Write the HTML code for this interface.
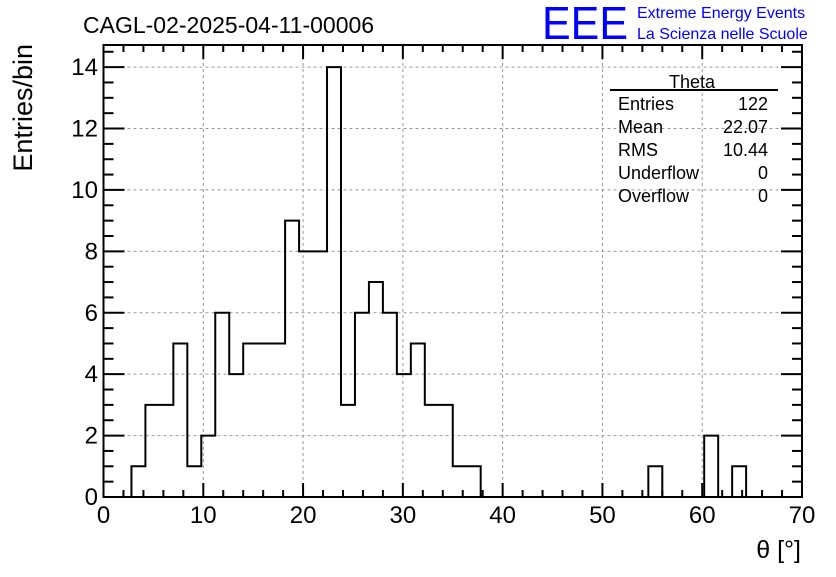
<!DOCTYPE html>
<html><head><meta charset="utf-8"><style>
body{margin:0;background:#fff;}
svg text{font-family:"Liberation Sans",sans-serif;}
</style></head><body>
<svg id="c" width="836" height="572" xmlns="http://www.w3.org/2000/svg">
<rect width="836" height="572" fill="#fff"/>
<g id="grid"></g>
<g id="bars"></g>
<g id="axes"></g>
<text x="83" y="33" font-size="23">CAGL-02-2025-04-11-00006</text>
<text x="542" y="39" font-size="46" fill="#0000ff" textLength="86" lengthAdjust="spacingAndGlyphs">EEE</text>
<text x="637" y="18" font-size="16" fill="#0000ff">Extreme Energy Events</text>
<text x="637" y="39" font-size="16" fill="#0000ff">La Scienza nelle Scuole</text>
<g font-size="18">
<text x="692" y="88" text-anchor="middle">Theta</text>
<line x1="610" y1="90" x2="778" y2="90" stroke="#000" stroke-width="2"/>
<text x="618" y="110">Entries</text><text x="768" y="110" text-anchor="end">122</text>
<text x="618" y="133">Mean</text><text x="768" y="133" text-anchor="end">22.07</text>
<text x="618" y="156">RMS</text><text x="768" y="156" text-anchor="end">10.44</text>
<text x="618" y="179">Underflow</text><text x="768" y="179" text-anchor="end">0</text>
<text x="618" y="202">Overflow</text><text x="768" y="202" text-anchor="end">0</text>
</g>
<text x="32" y="44" font-size="27" transform="rotate(-90 32 44)" text-anchor="end">Entries/bin</text>
<text x="801" y="558" font-size="25" text-anchor="end">θ [°]</text>
</svg>
<script>
const binWidth = 1.4;
const counts = [0,0,1,3,3,5,1,2,6,4,5,5,5,9,8,8,14,3,6,7,6,4,5,3,3,1,1,0,0,0,0,0,0,0,0,0,0,0,0,1,0,0,0,2,0,1,0,0,0,0];
const xTicks = [0,10,20,30,40,50,60,70];
const yTicks = [0,2,4,6,8,10,12,14];
const X0=103.5,X1=802,Y0=497,Y1=45,XMAX=70,YMAX=14.72;
const sx=v=>X0+(X1-X0)*v/XMAX, sy=v=>Y0-(Y0-Y1)*v/YMAX;
const NS="http://www.w3.org/2000/svg";
function mk(p,t,a){const e=document.createElementNS(NS,t);for(const k in a)e.setAttribute(k,a[k]);p.appendChild(e);return e;}
const grid=document.getElementById('grid'),axes=document.getElementById('axes'),bars=document.getElementById('bars');
xTicks.forEach(v=>{if(v>0&&v<XMAX){const l=mk(grid,'line',{x1:sx(v),x2:sx(v),y1:Y1,y2:Y0,stroke:'#999','stroke-dasharray':'3,3'});

}});
yTicks.forEach(v=>{if(v>0){const l=mk(grid,'line',{x1:X0,x2:X1,y1:sy(v),y2:sy(v),stroke:'#999','stroke-dasharray':'3,3'});

}});
let d='M'+sx(0)+','+sy(0);
counts.forEach((c,i)=>{d+=' L'+sx(i*binWidth)+','+sy(c)+' L'+sx((i+1)*binWidth)+','+sy(c);});
d+=' L'+sx(counts.length*binWidth)+','+sy(0);
const h=mk(bars,'path',{d:d,fill:'none',stroke:'#000','stroke-width':2});


const fr=mk(axes,'rect',{x:X0,y:Y1,width:X1-X0,height:Y0-Y1,fill:'none',stroke:'#000','stroke-width':2});


for(let v=0;v<=XMAX;v+=2){const L=v%10===0?14:7;
mk(axes,'line',{x1:sx(v),x2:sx(v),y1:Y0,y2:Y0-L,stroke:'#000','stroke-width':2});
mk(axes,'line',{x1:sx(v),x2:sx(v),y1:Y1,y2:Y1+L,stroke:'#000','stroke-width':2});}
for(let v=0;v<=YMAX;v+=0.5){const L=(v%2===0)?21:10;
mk(axes,'line',{x1:X0,x2:X0+L,y1:sy(v),y2:sy(v),stroke:'#000','stroke-width':2});
mk(axes,'line',{x1:X1,x2:X1-L,y1:sy(v),y2:sy(v),stroke:'#000','stroke-width':2});}
xTicks.forEach(v=>{const t=mk(axes,'text',{x:sx(v),y:523,'font-size':24,'text-anchor':'middle'});t.textContent=v;

});
yTicks.forEach(v=>{const t=mk(axes,'text',{x:98,y:sy(v)+8,'font-size':24,'text-anchor':'end'});t.textContent=v;

});
</script>
</body></html>
